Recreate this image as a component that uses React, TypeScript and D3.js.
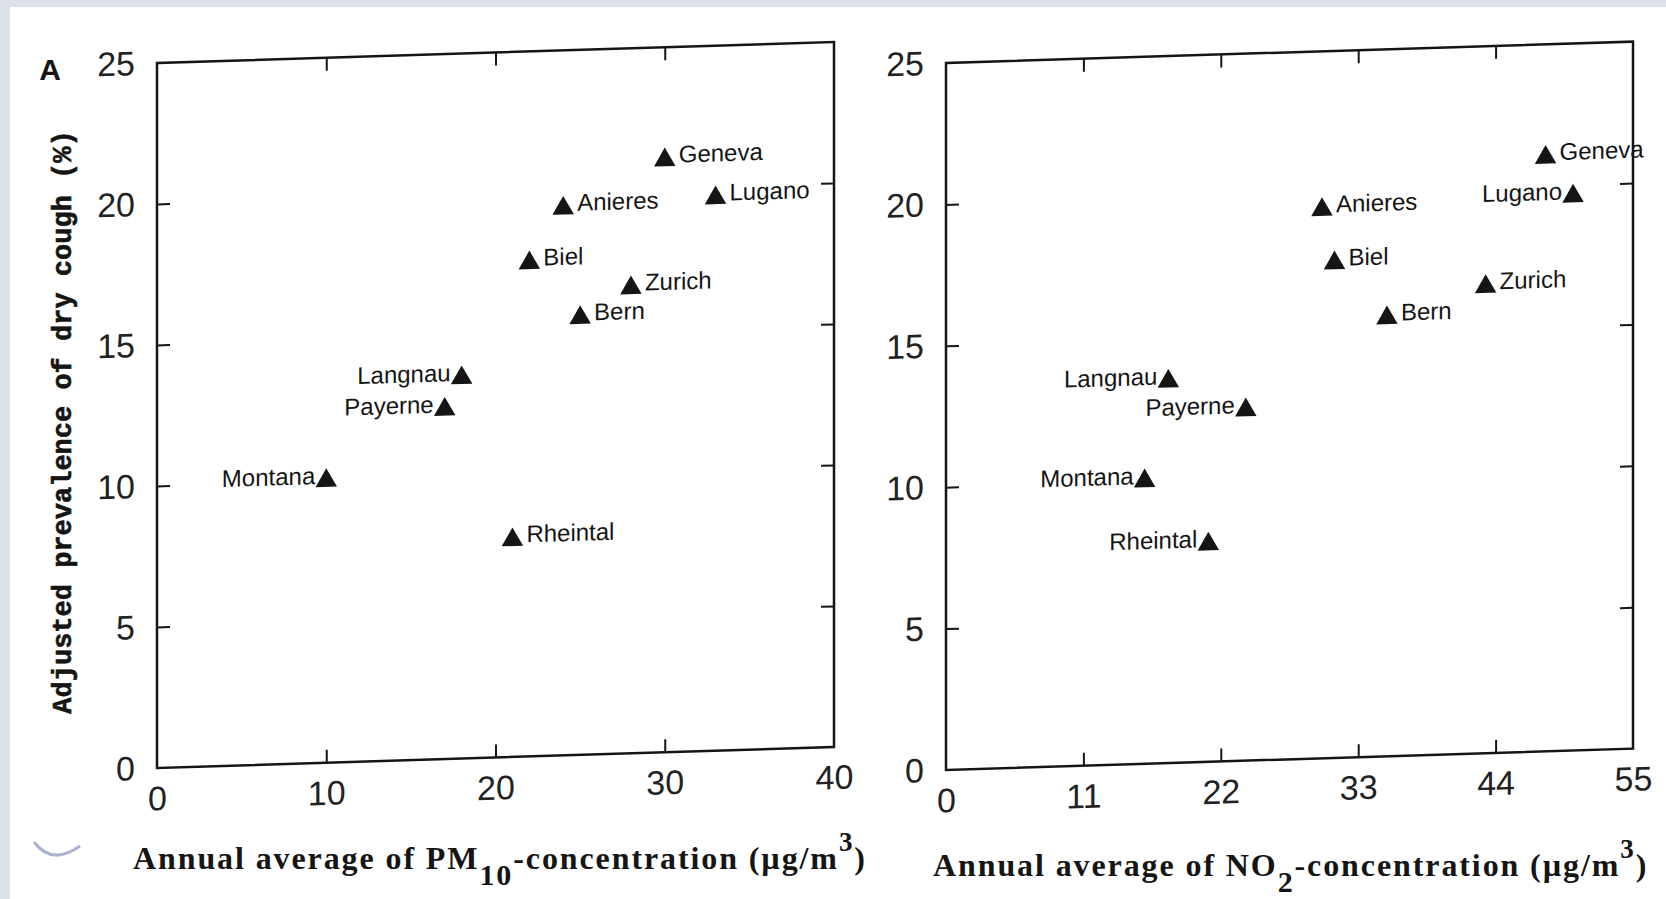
import { useEffect, useRef } from "react";
import * as d3 from "d3";

// values
const cities = ["Geneva", "Lugano", "Anieres", "Biel", "Zurich", "Bern", "Langnau", "Payerne", "Montana", "Rheintal"];
const prevalence = [21.0, 19.6, 19.4, 17.5, 16.5, 15.5, 13.5, 12.4, 10.0, 7.7];
const pm10 = [30, 33, 24, 22, 28, 25, 18, 17, 10, 21];
const no2 = [48, 50.2, 30.1, 31.1, 43.2, 35.3, 17.8, 24, 15.9, 21];

const yTicks = [0, 5, 10, 15, 20, 25];
const pm10Ticks = [0, 10, 20, 30, 40];
const no2Ticks = [0, 11, 22, 33, 44, 55];

// which side of the marker each city name sits on
const pm10Sides = ["right", "right", "right", "right", "right", "right", "left", "left", "left", "right"];
const no2Sides = ["right", "left", "right", "right", "right", "right", "left", "left", "left", "left"];

const ink = "#151515";
const sans = "'Liberation Sans', Arial, sans-serif";
const SKEW = -1.78; // the scan is slightly sheared

type Panel = {
    xs: number[];
    xTicks: number[];
    sides: string[];
    left: number;
    right: number;
    top: number;
    bottom: number;
};

function drawPanel(svg: any, p: Panel) {
    const w = p.right - p.left;
    const h = p.bottom - p.top;
    const xMax = p.xTicks[p.xTicks.length - 1];

    const x = d3.scaleLinear().domain([0, xMax]).range([0, w]);
    const y = d3.scaleLinear().domain([0, 25]).range([h, 0]);

    const g = svg.append("g")
        .attr("transform", `translate(${p.left},${p.top}) skewY(${SKEW})`);

    g.append("rect")
        .attr("width", w)
        .attr("height", h)
        .attr("fill", "none")
        .attr("stroke", ink)
        .attr("stroke-width", 2.5);

    const innerY = yTicks.slice(1, -1);
    const innerX = p.xTicks.slice(1, -1);

    // inward tick marks on all four sides
    const ticks = (axis: any, transform: string) => g.append("g")
        .attr("transform", transform)
        .call(axis)
        .call((s: any) => s.select(".domain").remove())
        .call((s: any) => s.selectAll("line").attr("stroke", ink).attr("stroke-width", 2));

    const blank = () => "";
    ticks(d3.axisLeft(y).tickValues(innerY).tickSize(-13).tickFormat(blank), "translate(0,0)");
    ticks(d3.axisRight(y).tickValues(innerY).tickSize(-13).tickFormat(blank), `translate(${w},0)`);
    ticks(d3.axisTop(x).tickValues(innerX).tickSize(-13).tickFormat(blank), "translate(0,0)");
    ticks(d3.axisBottom(x).tickValues(innerX).tickSize(-13).tickFormat(blank), `translate(0,${h})`);

    // tick labels
    const labels = (axis: any, transform: string) => g.append("g")
        .attr("transform", transform)
        .call(axis)
        .call((s: any) => s.select(".domain").remove())
        .call((s: any) => s.selectAll("text")
            .attr("font-family", sans)
            .attr("font-size", 34)
            .attr("fill", "#222"));

    labels(d3.axisLeft(y).tickValues(yTicks).tickSize(0).tickPadding(22).tickFormat(d3.format("d")), "translate(0,0)");
    labels(d3.axisBottom(x).tickValues(p.xTicks).tickSize(0).tickPadding(18).tickFormat(d3.format("d")), `translate(0,${h})`);

    // markers
    const tri = d3.symbol(d3.symbolTriangle, 200)();
    g.selectAll("path.pt")
        .data(cities)
        .join("path")
        .attr("class", "pt")
        .attr("d", tri)
        .attr("fill", ink)
        .attr("transform", (_: string, i: number) => `translate(${x(p.xs[i])},${y(prevalence[i])})`);

    g.selectAll("text.city")
        .data(cities)
        .join("text")
        .attr("class", "city")
        .attr("x", (_: string, i: number) => x(p.xs[i]) + (p.sides[i] === "left" ? -11 : 14))
        .attr("y", (_: string, i: number) => y(prevalence[i]) + 3)
        .attr("text-anchor", (_: string, i: number) => (p.sides[i] === "left" ? "end" : "start"))
        .attr("font-family", sans)
        .attr("font-size", 24)
        .attr("fill", ink)
        .text((d: string) => d);
}

function xTitle(svg: any, x: number, y: number, species: string, sub: string) {
    const t = svg.append("text")
        .attr("x", x)
        .attr("y", y)
        .attr("font-family", "'Liberation Serif', 'DejaVu Serif', serif")
        .attr("font-weight", "bold")
        .attr("font-size", 32)
        .attr("letter-spacing", 1.9)
        .attr("fill", ink);
    t.append("tspan").text(`Annual average of ${species}`);
    t.append("tspan").attr("dy", 16).attr("font-size", 30).text(sub);
    t.append("tspan").attr("dy", -16).text("-concentration (µg/m");
    t.append("tspan").attr("dy", -18).attr("font-size", 27).text("3");
    t.append("tspan").attr("dy", 18).text(")");
}

export default function App() {
    const ref = useRef<SVGSVGElement>(null);

    useEffect(() => {
        const width = 1666;
        const height = 899;

        const svg = d3.select(ref.current)
            .attr("width", width)
            .attr("height", height);

        svg.selectAll("*").remove();

        // paper + scanner margins
        svg.append("rect").attr("width", width).attr("height", height).attr("fill", "#ffffff");
        svg.append("rect").attr("width", width).attr("height", 7).attr("fill", "#dde2ea");
        svg.append("rect").attr("width", 10).attr("height", height).attr("fill", "#dde2ea");
        svg.append("path")
            .attr("d", "M34,842 Q52,866 80,846")
            .attr("fill", "none")
            .attr("stroke", "#a9b4cf")
            .attr("stroke-width", 3);

        drawPanel(svg, { xs: pm10, xTicks: pm10Ticks, sides: pm10Sides, left: 157, right: 834, top: 63, bottom: 768 });
        drawPanel(svg, { xs: no2, xTicks: no2Ticks, sides: no2Sides, left: 946, right: 1633, top: 63, bottom: 770 });

        xTitle(svg, 133, 869, "PM", "10");
        xTitle(svg, 933, 876, "NO", "2");

        svg.append("text")
            .attr("transform", "translate(62,422) rotate(-90)")
            .attr("text-anchor", "middle")
            .attr("dy", "0.35em")
            .attr("font-family", "'Liberation Mono', 'DejaVu Sans Mono', monospace")
            .attr("font-weight", "bold")
            .attr("font-size", 27)
            .attr("stroke", ink)
            .attr("stroke-width", 0.6)
            .attr("fill", ink)
            .text("Adjusted prevalence of dry cough (%)");

        svg.append("text")
            .attr("x", 50)
            .attr("y", 69)
            .attr("dy", "0.35em")
            .attr("text-anchor", "middle")
            .attr("font-family", sans)
            .attr("font-weight", "bold")
            .attr("font-size", 30)
            .attr("fill", ink)
            .text("A");
    }, []);

    return <svg ref={ref} style={{ position: "absolute", left: 0, top: 0, display: "block" }}></svg>;
}
